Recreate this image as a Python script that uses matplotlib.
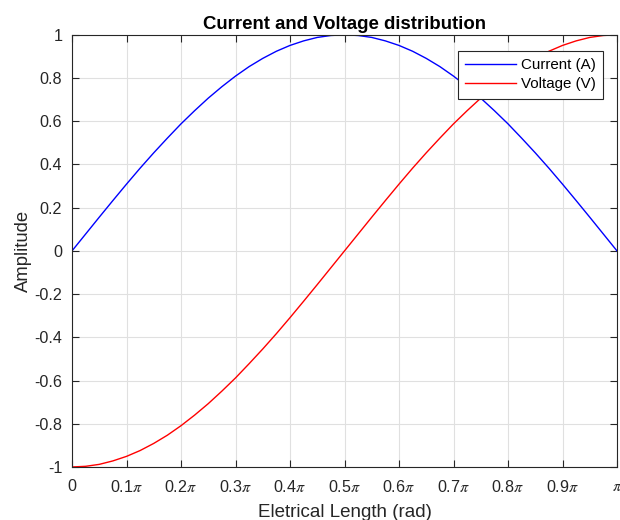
import matplotlib.pyplot as plt

plt.rcParams['font.family'] = ['Liberation Sans', 'DejaVu Sans']
plt.rcParams['mathtext.fontset'] = 'stix'

# --- data (x in multiples of pi) ---
x_pi = [0.000, 0.025, 0.050, 0.075, 0.100, 0.125, 0.150, 0.175, 0.200, 0.225,
        0.250, 0.275, 0.300, 0.325, 0.350, 0.375, 0.400, 0.425, 0.450, 0.475,
        0.500, 0.525, 0.550, 0.575, 0.600, 0.625, 0.650, 0.675, 0.700, 0.725,
        0.750, 0.775, 0.800, 0.825, 0.850, 0.875, 0.900, 0.925, 0.950, 0.975,
        1.000]
corrente = [0.000, 0.078, 0.156, 0.233, 0.309, 0.383, 0.454, 0.522, 0.588, 0.649,
            0.707, 0.760, 0.809, 0.853, 0.891, 0.924, 0.951, 0.972, 0.988, 0.997,
            1.000, 0.997, 0.988, 0.972, 0.951, 0.924, 0.891, 0.853, 0.809, 0.760,
            0.707, 0.649, 0.588, 0.522, 0.454, 0.383, 0.309, 0.233, 0.156, 0.078,
            0.000]
tensao = [-1.000, -0.997, -0.988, -0.972, -0.951, -0.924, -0.891, -0.853, -0.809, -0.760,
          -0.707, -0.649, -0.588, -0.522, -0.454, -0.383, -0.309, -0.233, -0.156, -0.078,
          0.000, 0.078, 0.156, 0.233, 0.309, 0.383, 0.454, 0.522, 0.588, 0.649,
          0.707, 0.760, 0.809, 0.853, 0.891, 0.924, 0.951, 0.972, 0.988, 0.997,
          1.000]

xticks = [0, 0.1, 0.2, 0.3, 0.4, 0.5, 0.6, 0.7, 0.8, 0.9, 1.0]
xtick_labels = ['0', r'0.1$\pi$', r'0.2$\pi$', r'0.3$\pi$', r'0.4$\pi$', r'0.5$\pi$',
                r'0.6$\pi$', r'0.7$\pi$', r'0.8$\pi$', r'0.9$\pi$', r'$\pi$']
yticks = [-1, -0.8, -0.6, -0.4, -0.2, 0, 0.2, 0.4, 0.6, 0.8, 1]
ytick_labels = ['-1', '-0.8', '-0.6', '-0.4', '-0.2', '0', '0.2', '0.4', '0.6', '0.8', '1']

# --- figure ---
fig = plt.figure(figsize=(6.2, 5.2), dpi=100)
ax = fig.add_axes([72 / 620, 0.102, 545 / 620, 0.831])

ax.plot(x_pi, corrente, color='#0000ff', linewidth=1.0, label='Current (A)')
ax.plot(x_pi, tensao, color='#ff0000', linewidth=1.0, label='Voltage (V)')

ax.set_xlim(0, 1)
ax.set_ylim(-1, 1)
ax.set_xticks(xticks)
ax.set_xticklabels(xtick_labels)
ax.set_yticks(yticks)
ax.set_yticklabels(ytick_labels)
ax.tick_params(direction='in', length=5, width=0.8, labelsize=11.6,
               top=True, right=True, colors='#262626')
ax.tick_params(axis='x', pad=9)
ax.tick_params(axis='y', pad=7)
ax.grid(True, color='#e0e0e0', linewidth=0.8)
ax.set_axisbelow(True)
for s in ax.spines.values():
    s.set_color('#262626')
    s.set_linewidth(0.8)

ax.set_title('Current and Voltage distribution', fontsize=13.4, fontweight='bold', pad=4)
ax.set_xlabel('Eletrical Length (rad)', fontsize=13.5, color='#262626', labelpad=6)
ax.set_ylabel('Amplitude', fontsize=13.3, color='#262626', labelpad=2)

leg = ax.legend(loc='upper right', bbox_to_anchor=(0.9743, 0.963), borderaxespad=0,
                fontsize=10.9, fancybox=False, framealpha=1, edgecolor='#262626',
                handlelength=3.35, handletextpad=0.3, borderpad=0.5, labelspacing=0.3)
leg.get_frame().set_linewidth(0.8)

fig.savefig('out.png', dpi=100)
